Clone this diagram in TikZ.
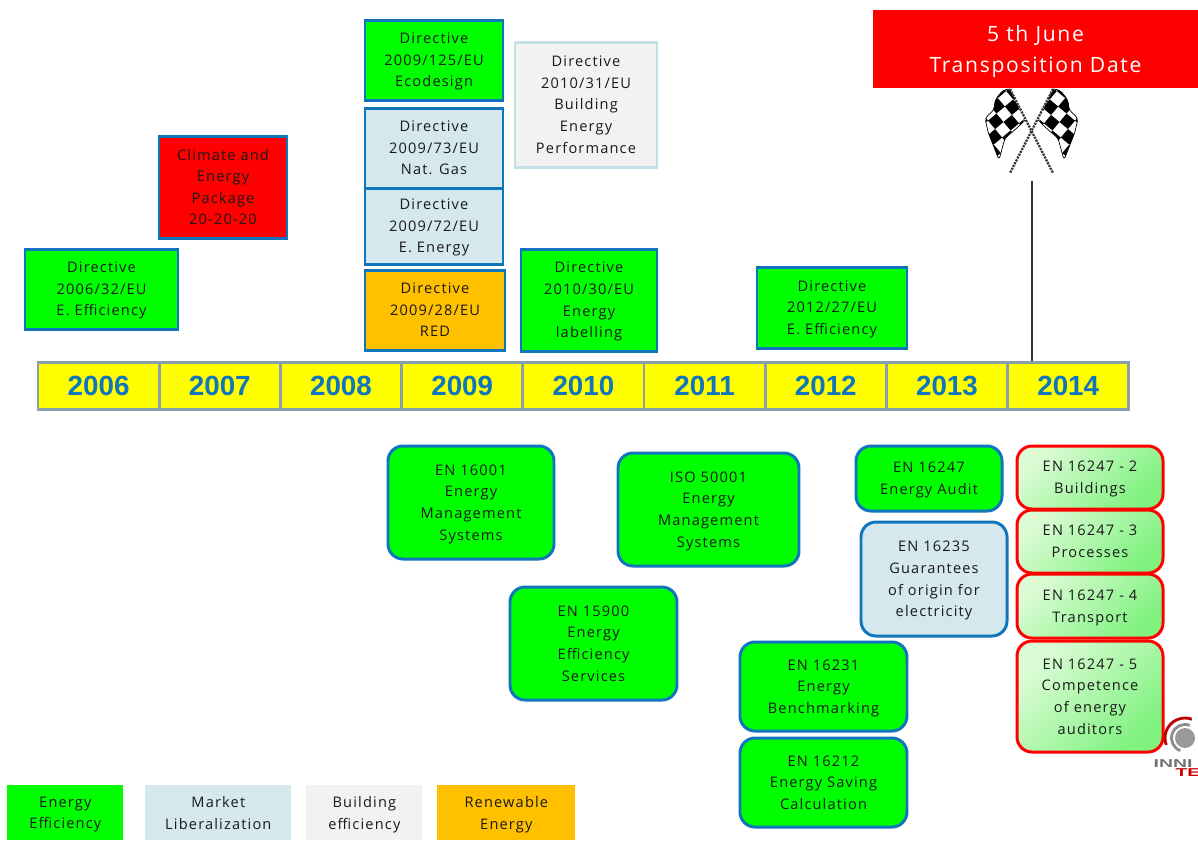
\documentclass[tikz,border=0pt]{standalone}
\usepackage{fontspec}
\setmainfont[LetterSpace=8]{Open Sans}
\newfontfamily\yearfont{Liberation Sans}
\usetikzlibrary{shadings}
\definecolor{boxblue}{HTML}{0F75BD}
\definecolor{mktblue}{HTML}{D5E8EE}
\definecolor{bldgrey}{HTML}{F2F2F2}
\definecolor{bldedge}{HTML}{C5DFE6}
\definecolor{resorange}{HTML}{FFC000}
\definecolor{cellgrey}{HTML}{8A9FAC}
\definecolor{cellyellow}{HTML}{FFFF00}
\definecolor{partlight}{HTML}{DCFCD6}
\definecolor{partdark}{HTML}{7FF27F}
\tikzset{
  size/.style 2 args={minimum width=#1*0.02cm, minimum height=#2*0.02cm},
  label/.style={inner sep=0pt, align=center, text=black!90, text depth=0pt, font=\fontsize{8.3}{12.3}\selectfont},
  dirbox/.style={label, draw=boxblue, line width=1.7pt, fill=green},
  enbox/.style={dirbox, rounded corners=0.3cm},
  partbox/.style={label, draw=red, line width=1.7pt, rounded corners=0.3cm, shading=axis,
    left color=partlight, right color=partdark, shading angle=45},
  legendbox/.style={label, anchor=north west},
  yearcell/.style={draw=cellgrey, line width=1.7pt, fill=cellyellow, inner sep=0pt, size={121.2}{47},
    text=boxblue, font=\yearfont\bfseries\fontsize{15.8}{18}\selectfont},
  logotext/.style={inner sep=0pt, anchor=west, xscale=1.7, transform shape, font=\yearfont\bfseries\fontsize{6.5}{8}\selectfont},
}
\begin{document}
\begin{tikzpicture}[x=0.02cm,y=-0.02cm]
\useasboundingbox (0,0) rectangle (1198,840);
% timeline
\foreach \yr [count=\i from 0] in {2006,...,2014}
  \node[yearcell] (y\yr) at ({98.6+121.2*\i},386) {\yr};
% directives
\node[dirbox,size={153}{80}] (dirEff06) at (101.5,289) {Directive\\2006/32/EU\\E. Efficiency};
\node[dirbox,size={128}{102},fill=red] (climate) at (223,187) {Climate and\\Energy\\Package\\20-20-20};
\node[dirbox,size={138}{80}] (dirEco) at (434,60) {Directive\\2009/125/EU\\Ecodesign};
\node[dirbox,size={138}{80},fill=mktblue] (dirGas) at (434,148) {Directive\\2009/73/EU\\Nat. Gas};
\node[dirbox,size={138}{76},fill=mktblue] (dirElec) at (434,226) {Directive\\2009/72/EU\\E. Energy};
\node[dirbox,size={140}{80},fill=resorange] (dirRed) at (435,310) {Directive\\2009/28/EU\\RED};
\node[dirbox,size={142}{125},fill=bldgrey,draw=bldedge] (dirBld) at (586,104.5) {Directive\\2010/31/EU\\Building\\Energy\\Performance};
\node[dirbox,size={136}{102}] (dirLab) at (589,300) {Directive\\2010/30/EU\\Energy\\labelling};
\node[dirbox,size={150}{81}] (dirEff12) at (832,307.5) {Directive\\2012/27/EU\\E. Efficiency};
% standards
\node[enbox,size={166}{113}] (en16001) at (471,502.5) {EN 16001\\Energy\\Management\\Systems};
\node[enbox,size={181}{113}] (iso50001) at (708.5,509.5) {ISO 50001\\Energy\\Management\\Systems};
\node[enbox,size={167}{113}] (en15900) at (593.5,643.5) {EN 15900\\Energy\\Efficiency\\Services};
\node[enbox,size={146}{65}] (en16247) at (929,478.5) {EN 16247\\Energy Audit};
\node[enbox,size={146}{114},fill=mktblue] (en16235) at (934,579) {EN 16235\\Guarantees\\of origin for\\electricity};
\node[enbox,size={167}{89}] (en16231) at (823.5,686.5) {EN 16231\\Energy\\Benchmarking};
\node[enbox,size={167}{89}] (en16212) at (823.5,782.5) {EN 16212\\Energy Saving\\Calculation};
\node[partbox,size={146}{63}] (part2) at (1090,477.5) {EN 16247 - 2\\Buildings};
\node[partbox,size={146}{63}] (part3) at (1090,541.5) {EN 16247 - 3\\Processes};
\node[partbox,size={146}{64}] (part4) at (1090,606) {EN 16247 - 4\\Transport};
\node[partbox,size={146}{111}] (part5) at (1090,696.5) {EN 16247 - 5\\Competence\\of energy\\auditors};
% legend
\node[legendbox,size={116}{55},fill=green] (legEff) at (7,785) {Energy\\Efficiency};
\node[legendbox,size={146}{55},fill=mktblue] (legMkt) at (145,785) {Market\\Liberalization};
\node[legendbox,size={116}{55},fill=bldgrey] (legBld) at (306,785) {Building\\efficiency};
\node[legendbox,size={138}{55},fill=resorange] (legRes) at (437,785) {Renewable\\Energy};
% flags
\foreach \sgn in {1,-1} {
  \begin{scope}[shift={(1031.5,0)},xscale=\sgn]
    \begin{scope}
      \clip[rounded corners=2pt] (-21.5,89) -- (-28.5,90) -- (-36.5,100) -- (-37.5,110) -- (-46.5,118) -- (-43.5,132)
        -- (-32.5,160) -- (-26.5,138) -- (-14.5,128) -- (-6.5,120) -- cycle;
      \foreach \i in {-5,...,5}
        \foreach \j in {-5,...,5} {
          \pgfmathtruncatemacro\chk{mod(abs(\i+\j),2)}
          \ifnum\chk=0
            \fill[black,rotate around={40:(-28,122)}] ({-28+11*\i},{122+11*\j}) rectangle +(11,11);
          \fi
        }
    \end{scope}
    \draw[line width=0.4pt,rounded corners=2pt] (-21.5,89) -- (-28.5,90) -- (-36.5,100) -- (-37.5,110) -- (-46.5,118) -- (-43.5,132)
      -- (-32.5,160) -- (-26.5,138) -- (-14.5,128) -- (-6.5,120);
    \draw[black!80,line width=1.3pt,dash pattern=on 1.2pt off 0.6pt] (-21.5,89) -- (21.5,173);
  \end{scope}
}
% transposition date
\node[inner sep=0pt,fill=red,size={325}{78},align=center,text=white,text depth=0pt,font=\fontsize{12}{17.6}\selectfont] (deadline) at (1035.5,49) {5 th June\\Transposition Date};
\coordinate (flagfoot) at (1032,181);
\draw[black!80,line width=0.8pt] (flagfoot) -- (flagfoot |- y2014.north);
% logo
\fill[black!40] (1185,738) circle (10);
\draw[black!45,line width=1.6pt] (1185,738) ++(-70:13.5) arc (-70:-250:13.5);
\draw[red!75!black,line width=1.6pt] (1185,738) ++(-70:20) arc (-70:-200:20);
\node[logotext,text=black!55] (logoA) at (1153,764) {INNI};
\node[logotext,text=red!80!black] (logoB) at (1175,773) {TE};
\end{tikzpicture}
\end{document}
